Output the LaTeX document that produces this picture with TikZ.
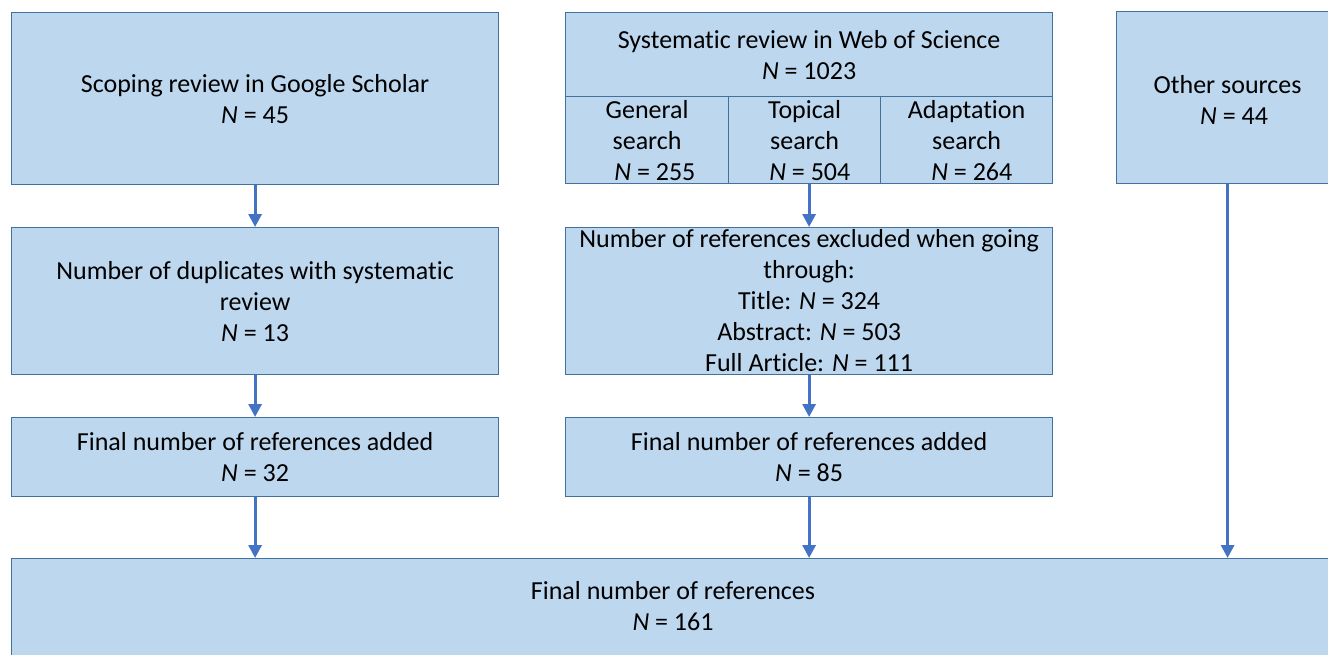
\documentclass[tikz,border=0pt]{standalone}
\usepackage{fontspec}
\setmainfont[RawFeature={-liga,-dlig}]{Carlito}
\usetikzlibrary{arrows.meta}
\definecolor{boxfill}{HTML}{BDD7EE}
\definecolor{boxline}{HTML}{41719C}
\definecolor{arrowblue}{HTML}{4472C4}
\begin{document}
\begin{tikzpicture}[x=1pt,y=-1pt,
  box/.style={draw=boxline, fill=boxfill, line width=1.2pt, rectangle, inner sep=0pt, anchor=north west},
  lbl/.style={align=center, font=\fontsize{26}{31}\selectfont, inner sep=0pt},
  flow/.style={draw=arrowblue, line width=3pt, -{Triangle[width=13pt,length=13pt]}}]
\useasboundingbox (0,0) rectangle (1328,654);
\clip (0,0) rectangle (1328,654);
% boxes
\node[box, minimum width=487pt, minimum height=172pt] (a) at (11,12) {};
\node[box, minimum width=487pt, minimum height=84pt] (bt) at (565,12) {};
\node[box, minimum width=163pt, minimum height=87pt] (bg) at (565,96) {};
\node[box, minimum width=152pt, minimum height=87pt] (bp) at (728,96) {};
\node[box, minimum width=172pt, minimum height=87pt] (ba) at (880,96) {};
\node[box, minimum width=222pt, minimum height=172pt] (c) at (1116,11) {};
\node[box, minimum width=487pt, minimum height=147pt] (d) at (11,227) {};
\node[box, minimum width=487pt, minimum height=147pt] (e) at (565,227) {};
\node[box, minimum width=487pt, minimum height=79pt] (f) at (11,417) {};
\node[box, minimum width=487pt, minimum height=79pt] (g) at (565,417) {};
\node[box, minimum width=1325pt, minimum height=110pt] (h) at (11,558) {};
% labels
\node[lbl] (la) at (a.center) {Scoping review in Google Scholar\\\textit{N} = 45};
\node[lbl] (lbt) at (bt.center) {Systematic review in Web of Science\\\textit{N} = 1023};
\node[lbl] (lbg) at (bg.center) {General\\search\\\hspace*{0.6em}\textit{N} = 255};
\node[lbl] (lbp) at (bp.center) {Topical\\search\\\hspace*{0.4em}\textit{N} = 504};
\node[lbl] (lba) at (ba.center) {Adaptation\\search\\\hspace*{0.4em}\textit{N} = 264};
\node[lbl] (lc) at ([yshift=-2pt]c.center) {Other sources\\\hspace*{0.5em}\textit{N} = 44};
\node[lbl] (ld) at (d.center) {Number of duplicates with systematic\\review\\\textit{N} = 13};
\node[lbl] (le) at ([yshift=1pt]e.center) {Number of references excluded when going\\through:\\Title: \textit{N} = 324\\Abstract: \textit{N} = 503\\Full Article: \textit{N} = 111};
\node[lbl] (lf) at (f.center) {Final number of references added\\\textit{N} = 32};
\node[lbl] (lg) at (g.center) {Final number of references added\\\textit{N} = 85};
\node[lbl] (lh) at (673,606) {Final number of references\\\textit{N} = 161};
% connectors
\draw[flow] (a.south) -- (d.north);
\draw[flow] (e.north |- bp.south) -- (e.north);
\draw[flow] (d.south) -- (f.north);
\draw[flow] (e.south) -- (g.north);
\draw[flow] (f.south) -- (f.south |- h.north);
\draw[flow] (g.south) -- (g.south |- h.north);
\draw[flow] (c.south) -- (c.south |- h.north);
\end{tikzpicture}
\end{document}
